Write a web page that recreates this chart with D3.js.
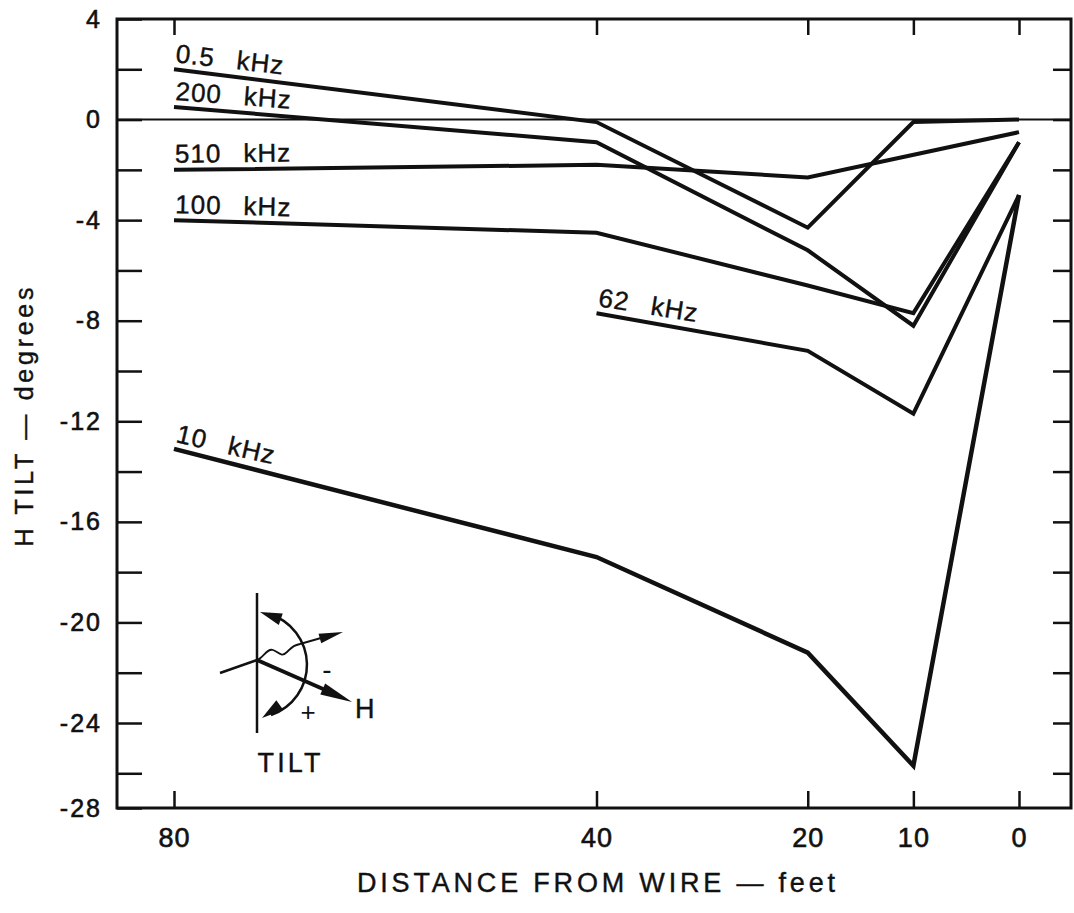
<!DOCTYPE html>
<html>
<head>
<meta charset="utf-8">
<script src="https://cdn.jsdelivr.net/npm/d3@7"></script>
<style>
  body { margin: 0; background: #fff; }
  text { font-family: "Liberation Sans", Arial, sans-serif; fill: #111; }
</style>
</head>
<body>
<div id="chart-area"></div>
<script>

// Data (distance in feet, tilt in degrees)
let series = ["0.5 kHz", "200 kHz", "510 kHz", "100 kHz", "62 kHz", "10 kHz"];
let dist05 = [80, 40, 20, 10, 0],   tilt05 = [2.0, -0.1, -4.3, -0.1, 0];
let dist200 = [80, 40, 20, 10, 0],  tilt200 = [0.5, -0.9, -5.2, -8.2, -0.9];
let dist510 = [80, 40, 20, 0],      tilt510 = [-2.0, -1.8, -2.3, -0.5];
let dist100 = [80, 40, 20, 10, 0],  tilt100 = [-4.0, -4.5, -6.6, -7.7, -0.9];
let dist62 = [40, 20, 10, 0],       tilt62 = [-7.7, -9.2, -11.7, -3.0];
let dist10 = [80, 40, 20, 10, 0],   tilt10 = [-13.1, -17.4, -21.2, -25.7, -3.0];

let xTicks = [80, 40, 20, 10, 0];
let yMajor = [4, 0, -4, -8, -12, -16, -20, -24];
let yMinorLeft = [4, 2, 0, -2, -4, -6, -8, -10, -12, -14, -16, -18, -20, -22, -24, -26];
let yMinorRight = [2, 0, -2, -4, -6, -8, -10, -12, -14, -16, -18, -20, -22, -24, -26];
let bottomLabel = "-28";

let distArrays = [dist05, dist200, dist510, dist100, dist62, dist10];
let tiltArrays = [tilt05, tilt200, tilt510, tilt100, tilt62, tilt10];

// SVG drawing area
let W = 1074, H = 913;
let frame = {left: 117, top: 19, right: 1071, bottom: 808};

let svg = d3.select("#chart-area").append("svg")
    .attr("width", W)
    .attr("height", H);

// Scales
let x = d3.scaleLinear().domain([80, 0]).range([174, 1019]);
let y = d3.scaleLinear().domain([4, -24]).range([19, 723]);
let yBottom = y.invert(frame.bottom);

// Axes
let topAxis = svg.append("g")
    .attr("transform", "translate(0," + frame.top + ")")
    .call(d3.axisTop(x).tickValues(xTicks).tickSizeInner(-16).tickSizeOuter(0).tickFormat(""));

let bottomAxis = svg.append("g")
    .attr("class", "x-axis")
    .attr("transform", "translate(0," + frame.bottom + ")")
    .call(d3.axisBottom(x).tickValues(xTicks).tickSizeInner(-17).tickSizeOuter(0).tickPadding(20)
        .tickFormat(d => String(d)));

let leftAxis = svg.append("g")
    .attr("class", "y-axis")
    .attr("transform", "translate(" + frame.left + ",0)")
    .call(d3.axisLeft(y).tickValues(yMinorLeft.concat([yBottom])).tickSizeInner(-25).tickSizeOuter(0).tickPadding(15)
        .tickFormat(d => d === yBottom ? bottomLabel : (yMajor.indexOf(d) >= 0 ? String(d) : "")));

let rightAxis = svg.append("g")
    .attr("transform", "translate(" + frame.right + ",0)")
    .call(d3.axisRight(y).tickValues(yMinorRight).tickSizeInner(-18).tickSizeOuter(0).tickFormat(""));

svg.selectAll(".domain").remove();
svg.selectAll(".tick line").attr("stroke", "#111").attr("stroke-width", 2.5);
svg.selectAll(".tick text")
    .attr("fill", "#111")
    .attr("stroke", "#111").attr("stroke-width", 0.6);
leftAxis.selectAll(".tick text").style("font-size", "25px").style("letter-spacing", "2px");
bottomAxis.selectAll(".tick text").style("font-size", "27px").style("letter-spacing", "1px");

// Frame and zero line
svg.append("rect")
    .attr("x", frame.left).attr("y", frame.top)
    .attr("width", frame.right - frame.left).attr("height", frame.bottom - frame.top)
    .attr("fill", "none").attr("stroke", "#111").attr("stroke-width", 3);

svg.append("line")
    .attr("x1", frame.left).attr("x2", frame.right)
    .attr("y1", y(0)).attr("y2", y(0))
    .attr("stroke", "#111").attr("stroke-width", 2);

// Lines
let line = d3.line().x(d => x(d[0])).y(d => y(d[1]));

series.forEach(function(name, i) {
    let pts = distArrays[i].map((d, j) => [d, tiltArrays[i][j]]);
    svg.append("path")
        .attr("d", line(pts))
        .attr("fill", "none")
        .attr("stroke", "#111")
        .attr("stroke-width", i === 5 ? 4.5 : 4)
        .attr("stroke-linejoin", "miter");

    // label above the first segment
    let x0 = x(pts[0][0]), y0 = y(pts[0][1]);
    let ang = Math.atan2(y(pts[1][1]) - y0, x(pts[1][0]) - x0) * 180 / Math.PI;
    let parts = name.split(" ");
    svg.append("text")
        .attr("transform", "translate(" + (x0 + 1) + "," + (y0 - 7) + ") rotate(" + (ang * 0.9) + ")")
        .style("font-size", "26px")
        .style("letter-spacing", "1px")
        .attr("stroke", "#111").attr("stroke-width", 0.4)
        .text(parts[0])
        .append("tspan").attr("dx", 22).text(parts[1]);
});

// Axis titles
svg.append("text")
    .attr("x", 596).attr("y", 892)
    .attr("text-anchor", "middle")
    .attr("textLength", 478).attr("lengthAdjust", "spacing")
    .style("font-size", "27px")
    .attr("stroke", "#111").attr("stroke-width", 0.4)
    .text("DISTANCE FROM WIRE \u2014 feet");

svg.append("text")
    .attr("transform", "translate(33,417) rotate(-90)")
    .attr("text-anchor", "middle")
    .attr("textLength", 259).attr("lengthAdjust", "spacing")
    .style("font-size", "25px")
    .attr("stroke", "#111").attr("stroke-width", 0.4)
    .text("H TILT \u2014 degrees");

// Inset: tilt sketch
function arrowHead(g, tip, from, len, hw) {
    let dx = tip[0] - from[0], dy = tip[1] - from[1];
    let n = Math.sqrt(dx * dx + dy * dy);
    let ux = dx / n, uy = dy / n;
    let bx = tip[0] - len * ux, by = tip[1] - len * uy;
    g.append("path")
        .attr("d", "M" + tip[0] + "," + tip[1] +
            "L" + (bx - hw * uy) + "," + (by + hw * ux) +
            "L" + (bx + hw * uy) + "," + (by - hw * ux) + "Z")
        .attr("fill", "#111");
}

let inset = svg.append("g").attr("transform", "translate(257,660)");

inset.append("line").attr("x1", 0).attr("y1", -67).attr("x2", 0).attr("y2", 73)
    .attr("stroke", "#111").attr("stroke-width", 2.5);
inset.append("line").attr("x1", -37).attr("y1", 13).attr("x2", 0).attr("y2", 0)
    .attr("stroke", "#111").attr("stroke-width", 2.5);
inset.append("path")
    .attr("d", "M0,0 C6,-2 10,-12 16,-10 S24,-2 30,-8 S38,-15 43,-16")
    .attr("stroke", "#111").attr("fill", "none").attr("stroke-width", 1.8);
inset.append("line").attr("x1", 43).attr("y1", -16).attr("x2", 78).attr("y2", -26)
    .attr("stroke", "#111").attr("stroke-width", 2);
arrowHead(inset, [86, -28], [43, -16], 24, 5);

inset.append("line").attr("x1", 0).attr("y1", 0).attr("x2", 82).attr("y2", 36)
    .attr("stroke", "#111").attr("stroke-width", 4);
arrowHead(inset, [95, 42], [0, 0], 32, 6);

inset.append("path")
    .attr("d", "M12,-46 A53,53 0 0 1 14,55")
    .attr("stroke", "#111").attr("fill", "none").attr("stroke-width", 2.5);
arrowHead(inset, [3, -48], [26, -40], 22, 6);
arrowHead(inset, [5, 58], [23, 45], 22, 6);

inset.append("text").attr("x", 70).attr("y", 19).attr("text-anchor", "middle")
    .style("font-size", "28px").text("-");
inset.append("text").attr("x", 51).attr("y", 61).attr("text-anchor", "middle")
    .style("font-size", "26px").text("+");
inset.append("text").attr("x", 98).attr("y", 58)
    .style("font-size", "27px").attr("stroke", "#111").attr("stroke-width", 0.4).text("H");
inset.append("text").attr("x", 32).attr("y", 112).attr("text-anchor", "middle")
    .attr("textLength", 63).attr("lengthAdjust", "spacing")
    .style("font-size", "27px").attr("stroke", "#111").attr("stroke-width", 0.4).text("TILT");

</script>
</body>
</html>
